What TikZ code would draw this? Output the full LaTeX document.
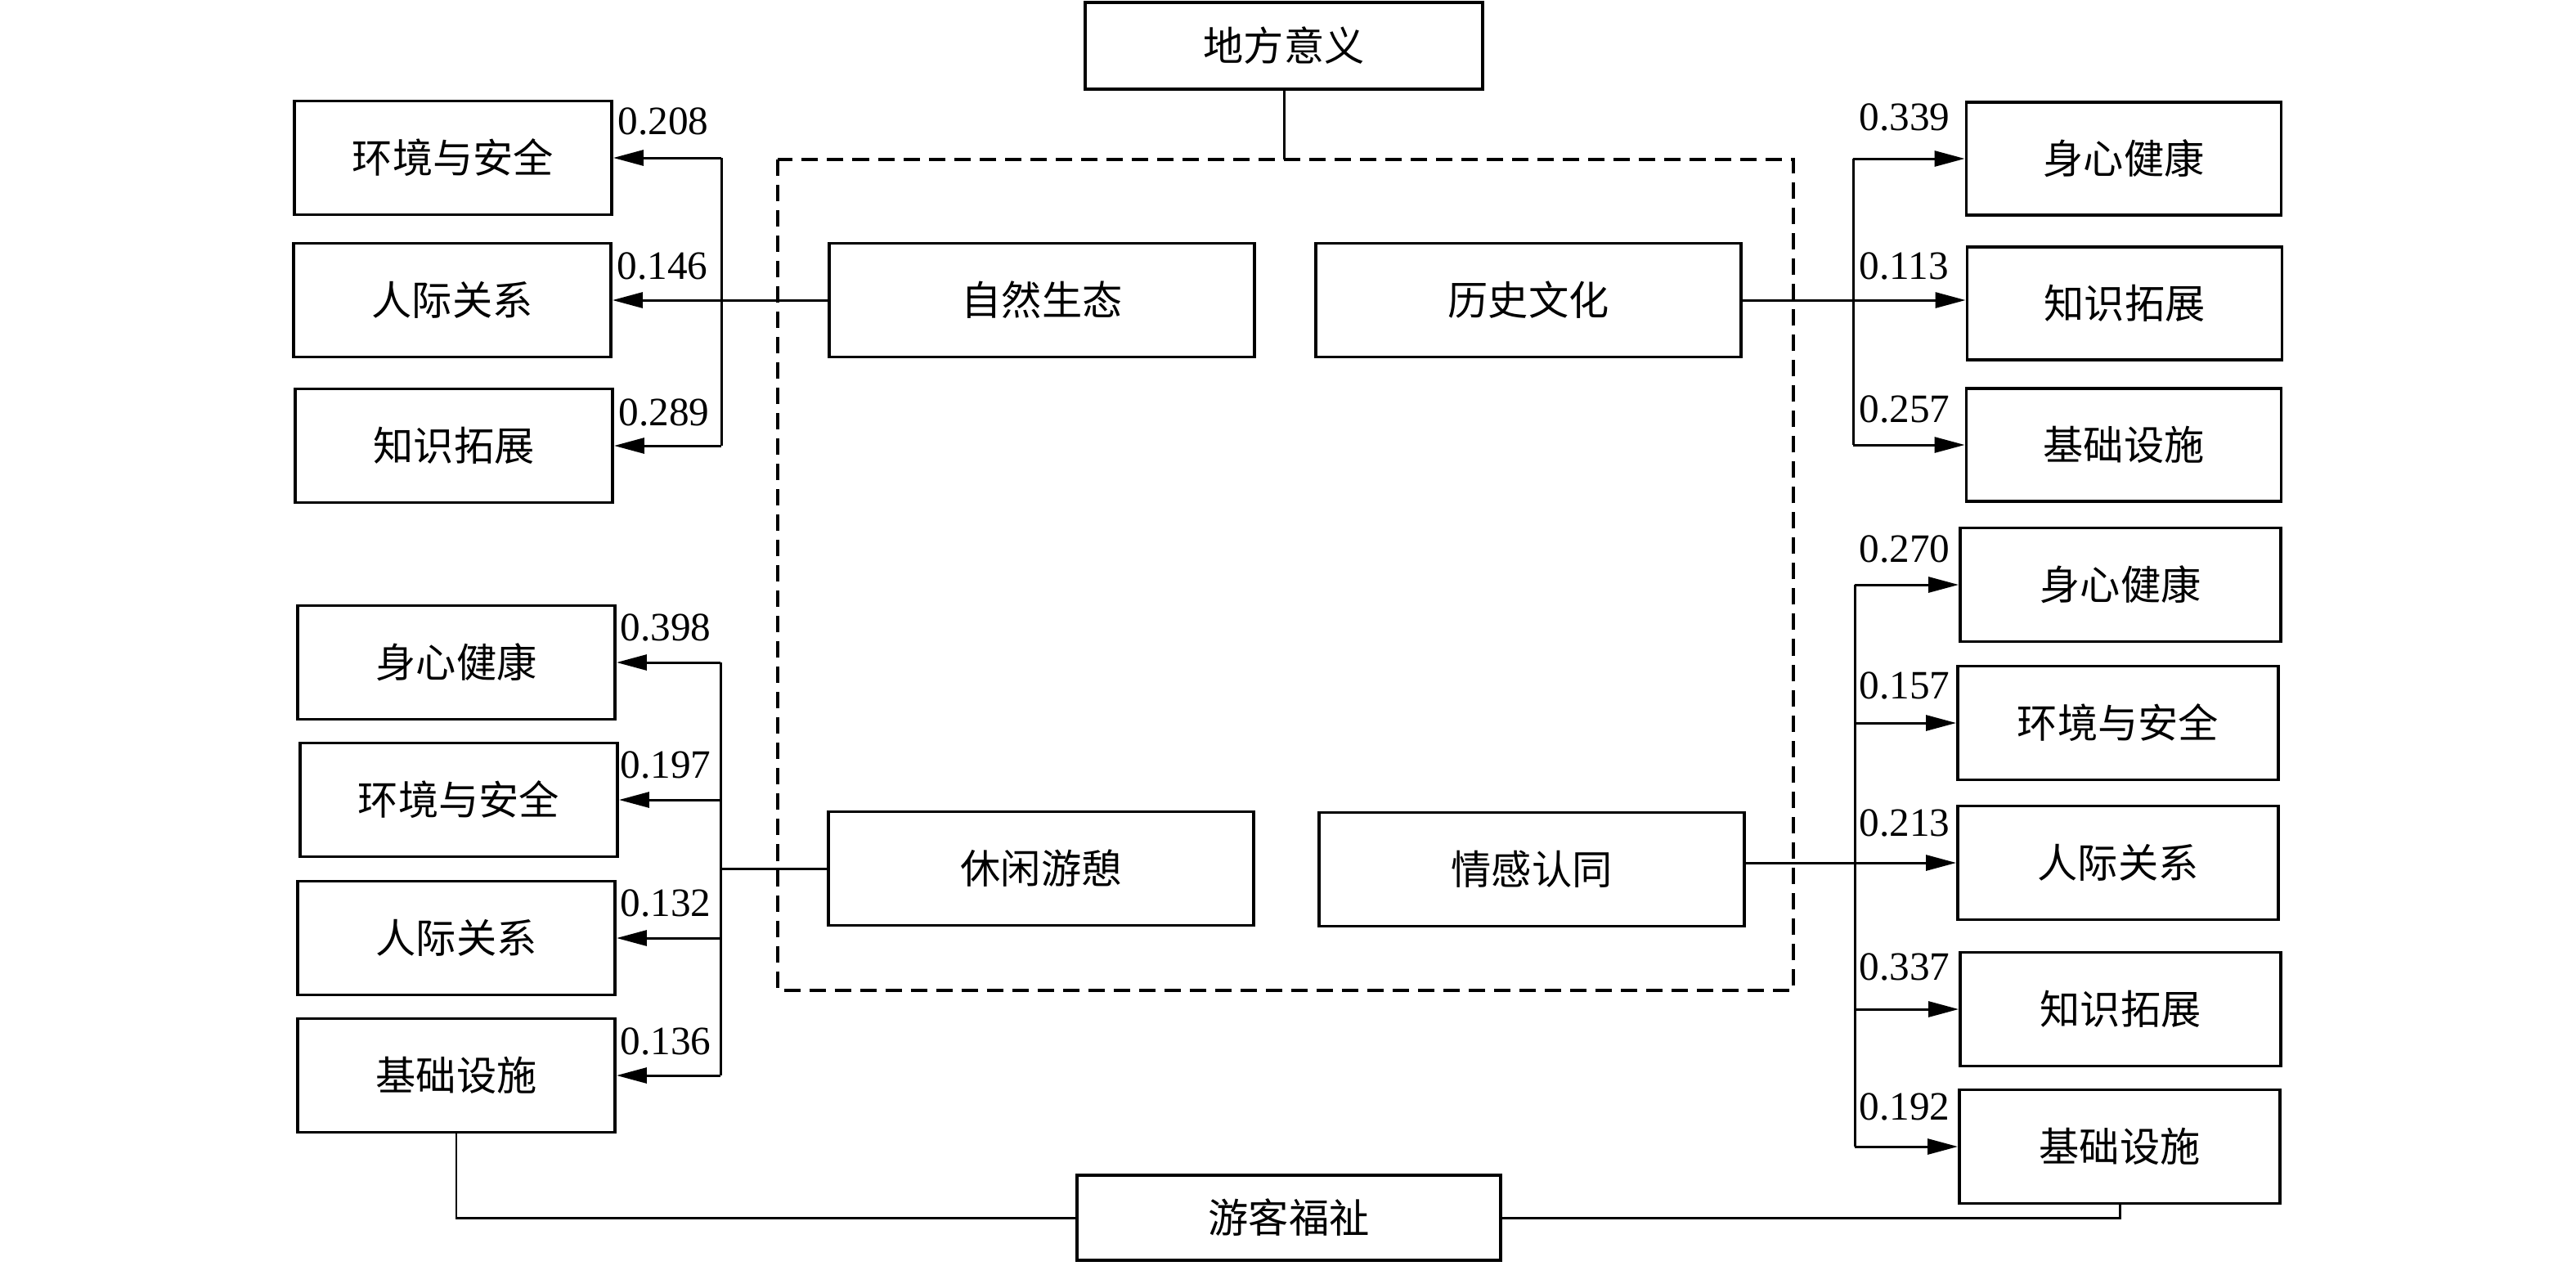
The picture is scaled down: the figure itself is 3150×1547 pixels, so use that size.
\documentclass[tikz,border=0pt]{standalone}
\usepackage{fontspec}
\setmainfont{Liberation Serif}
\newfontfamily\cjkf{Noto Sans CJK SC}
\usetikzlibrary{arrows.meta,calc}
\begin{document}
\begin{tikzpicture}[x=0.01cm,y=-0.01cm,
  box/.style={draw, line width=1.05pt, inner sep=0pt, minimum height=1.39cm, font=\cjkf\fontsize{14}{16}\selectfont},
  lbox/.style={box, minimum width=3.88cm},
  rubox/.style={box, minimum width=3.85cm, minimum height=1.38cm},
  rlbox/.style={box, minimum width=3.92cm},
  mbox/.style={box, minimum width=5.2cm},
  conn/.style={line width=0.85pt},
  arr/.style={conn, -{Triangle[length=0.37cm,width=0.19cm]}},
  wt/.style={font=\fontsize{14}{16}\selectfont, inner sep=0pt, anchor=base west},
  dashbox/.style={line width=0.9pt, dash pattern=on 0.2cm off 0.11cm}
]
\useasboundingbox (0,0) rectangle (3150,1547);

% top and dashed frame
\node[box, minimum width=4.86cm, minimum height=1.06cm] (dfyy) at (1570,56) {地方意义};
\coordinate (dtl) at (951,195);
\coordinate (dbr) at (2193,1211);
\draw[dashbox] (dtl) rectangle (dbr);
\draw[conn] (dfyy.south) -- (dfyy.south |- dtl);

% central nodes
\node[mbox] (zrst) at (1274,367) {自然生态};
\node[mbox] (lswh) at (1869,367) {历史文化};
\node[mbox] (xxyq) at (1273,1062) {休闲游憩};
\node[mbox] (qgrt) at (1873,1063) {情感认同};

% left upper
\node[lbox] (A1) at (554,193) {环境与安全};
\node[lbox] (A2) at (553,367) {人际关系};
\node[lbox] (A3) at (555,545) {知识拓展};
% left lower
\node[lbox] (B1) at (558,810) {身心健康};
\node[lbox] (B2) at (561,978) {环境与安全};
\node[lbox] (B3) at (558,1147) {人际关系};
\node[lbox] (B4) at (558,1315) {基础设施};
% right upper
\node[rubox] (C1) at (2597,194) {身心健康};
\node[rubox] (C2) at (2598,371) {知识拓展};
\node[rubox] (C3) at (2597,544) {基础设施};
% right lower
\node[rlbox] (D1) at (2593,715) {身心健康};
\node[rlbox] (D2) at (2590,884) {环境与安全};
\node[rlbox] (D3) at (2590,1055) {人际关系};
\node[rlbox] (D4) at (2593,1234) {知识拓展};
\node[rlbox] (D5) at (2592,1402) {基础设施};
% bottom
\node[box, minimum width=5.18cm, minimum height=1.04cm] (ykfz) at (1576,1489) {游客福祉};

% trunks
\coordinate (ta) at (882,0);
\coordinate (tb) at (881,0);
\coordinate (tc) at (2266,0);
\coordinate (td) at (2268,0);

% 自然生态
\draw[arr] (zrst.west) -- (A2.east);
\draw[conn] (A1.east -| ta) -- (A3.east -| ta);
\draw[arr] (A1.east -| ta) -- (A1.east);
\draw[arr] (A3.east -| ta) -- (A3.east);

% 休闲游憩
\draw[conn] (xxyq.west) -- (xxyq.west -| tb);
\draw[conn] (B1.east -| tb) -- (B4.east -| tb);
\draw[arr] (B1.east -| tb) -- (B1.east);
\draw[arr] (B2.east -| tb) -- (B2.east);
\draw[arr] (B3.east -| tb) -- (B3.east);
\draw[arr] (B4.east -| tb) -- (B4.east);

% 历史文化
\draw[arr] (lswh.east) -- (lswh.east -| C2.west);
\draw[conn] (C1.west -| tc) -- (C3.west -| tc);
\draw[arr] (C1.west -| tc) -- (C1.west);
\draw[arr] (C3.west -| tc) -- (C3.west);

% 情感认同
\draw[arr] (D3.west -| qgrt.east) -- (D3.west);
\draw[conn] (D1.west -| td) -- (D5.west -| td);
\draw[arr] (D1.west -| td) -- (D1.west);
\draw[arr] (D2.west -| td) -- (D2.west);
\draw[arr] (D4.west -| td) -- (D4.west);
\draw[arr] (D5.west -| td) -- (D5.west);

% bottom links
\draw[conn] (B4.south) |- (ykfz.west);
\draw[conn] (ykfz.east) -| (D5.south);

% weights
\node[wt] (wA1) at ($(A1.east)+(5,-29)$) {0.208};
\node[wt] (wA2) at ($(A2.east)+(5,-26)$) {0.146};
\node[wt] (wA3) at ($(A3.east)+(5,-25)$) {0.289};
\node[wt] (wB1) at ($(B1.east)+(4,-27)$) {0.398};
\node[wt] (wB2) at ($(B2.east)+(1,-27)$) {0.197};
\node[wt] (wB3) at ($(B3.east)+(4,-27)$) {0.132};
\node[wt] (wB4) at ($(B4.east)+(4,-26)$) {0.136};
\node[wt] (wC1) at ($(C1.west -| tc)+(7,-35)$) {0.339};
\node[wt] (wC2) at ($(C2.west -| tc)+(7,-30)$) {0.113};
\node[wt] (wC3) at ($(C3.west -| tc)+(7,-28)$) {0.257};
\node[wt] (wD1) at ($(D1.west -| td)+(5,-28)$) {0.270};
\node[wt] (wD2) at ($(D2.west -| td)+(5,-30)$) {0.157};
\node[wt] (wD3) at ($(D3.west -| td)+(5,-33)$) {0.213};
\node[wt] (wD4) at ($(D4.west -| td)+(5,-36)$) {0.337};
\node[wt] (wD5) at ($(D5.west -| td)+(5,-33)$) {0.192};
\end{tikzpicture}
\end{document}
